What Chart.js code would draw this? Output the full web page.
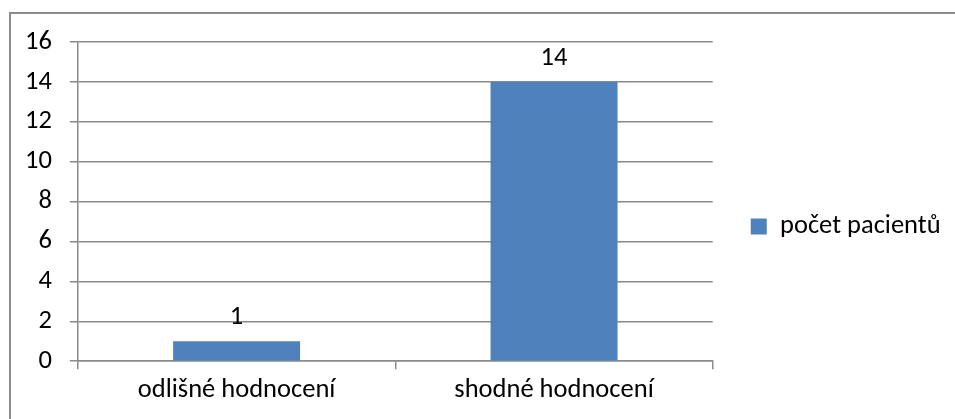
<!DOCTYPE html>
<html>
<head>
<meta charset="utf-8">
<script src="https://cdn.jsdelivr.net/npm/chart.js@4/dist/chart.umd.min.js"></script>
<style>
    html, body { margin: 0; padding: 0; background: #fff; overflow: hidden; }
    #frame { position: absolute; left: 9px; top: 12px; width: 1000px; height: 500px; border: 2px solid #8c8c8c; }
    #wrap { position: absolute; left: 0; top: 0; width: 955px; height: 419px; }
</style>
</head>
<body>
<div id="frame"></div>
<div id="wrap"><canvas id="barChart"></canvas></div>
<script>
var categories = ['odlišné hodnocení', 'shodné hodnocení'];
var patients = [1, 14];
var seriesName = 'počet pacientů';

var fontFamily = 'Carlito, Lato, sans-serif';
var fontSize = 26.5;
var gridColor = '#8a8a8a';

// value labels above the bars
var valueLabels = {
    id: 'valueLabels',
    afterDatasetsDraw: function(chart) {
        var ctx = chart.ctx;
        var meta = chart.getDatasetMeta(0);
        ctx.save();
        ctx.font = fontSize + 'px ' + fontFamily;
        ctx.fillStyle = '#000';
        ctx.textAlign = 'center';
        ctx.textBaseline = 'middle';
        meta.data.forEach(function(bar, i) {
            ctx.fillText(patients[i], bar.x, bar.y - 24);
        });
        ctx.restore();
    }
};

var ctx = document.getElementById('barChart').getContext('2d');
var myChart = new Chart(ctx, {
    type: 'bar',
    data: {
        labels: categories,
        datasets: [{
            label: seriesName,
            data: patients,
            backgroundColor: '#4f81bd',
            borderWidth: 0,
            barPercentage: 0.4,
            categoryPercentage: 1
        }]
    },
    options: {
        responsive: true,
        maintainAspectRatio: false,
        animation: false,
        layout: {
            padding: { left: 7, top: 42, right: 7, bottom: 8 }
        },
        plugins: {
            legend: {
                position: 'right',
                labels: {
                    boxWidth: 16,
                    boxHeight: 16,
                    padding: 38,
                    color: '#000',
                    font: { family: fontFamily, size: fontSize }
                }
            },
            tooltip: { enabled: false }
        },
        scales: {
            x: {
                grid: {
                    offset: true,
                    drawOnChartArea: false,
                    drawTicks: true,
                    tickLength: 8,
                    color: gridColor,
                    lineWidth: 1.5
                },
                border: { color: gridColor, width: 1.5 },
                ticks: {
                    padding: 5,
                    color: '#000',
                    font: { family: fontFamily, size: fontSize }
                }
            },
            y: {
                min: 0,
                max: 16,
                ticks: {
                    stepSize: 2,
                    padding: 18,
                    color: '#000',
                    font: { family: fontFamily, size: fontSize }
                },
                grid: {
                    tickLength: 8,
                    color: gridColor,
                    lineWidth: 1.5
                },
                border: { color: gridColor, width: 1.5 }
            }
        }
    },
    plugins: [valueLabels]
});
</script>
</body>
</html>
